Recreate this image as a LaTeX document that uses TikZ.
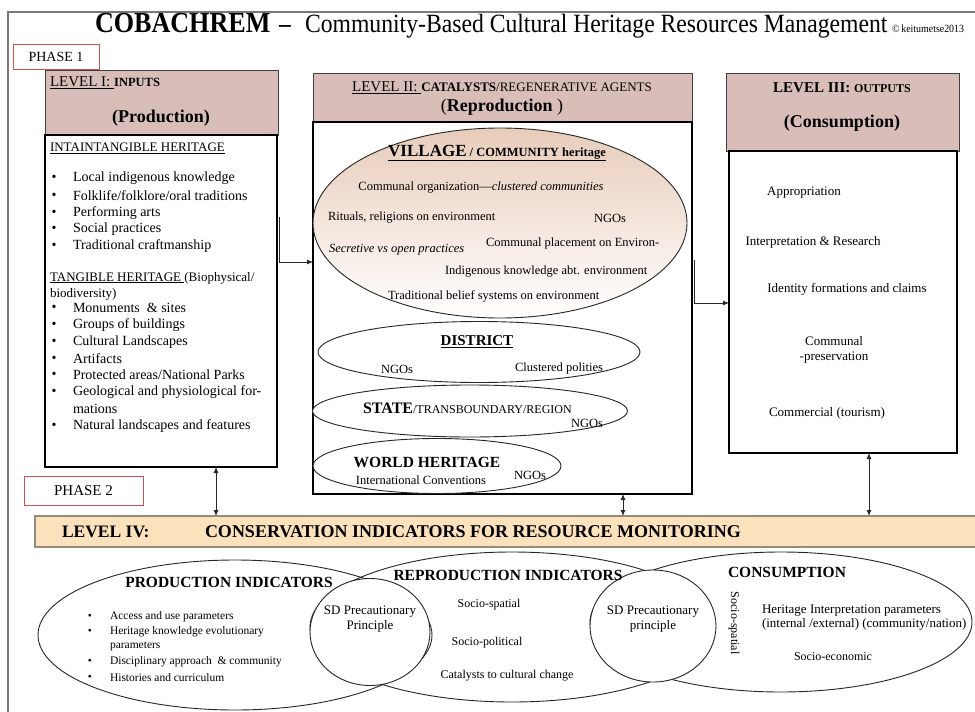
\documentclass[tikz,border=0pt]{standalone}
\usepackage{fontspec}
\setmainfont{Liberation Serif}
\newfontfamily\titlefont[FakeStretch=0.9]{Liberation Serif}
\usetikzlibrary{arrows.meta,shapes.geometric}

\definecolor{hdrpink}{RGB}{217,189,184}
\definecolor{barpeach}{RGB}{251,226,188}
\definecolor{barline}{RGB}{150,138,120}
\definecolor{phasered}{RGB}{205,80,80}
\definecolor{framegray}{RGB}{120,120,120}
\definecolor{vtop}{RGB}{232,204,186}
\definecolor{vmid}{RGB}{245,230,220}
\definecolor{inkgray}{RGB}{40,40,40}

\newcommand{\fz}[1]{\fontsize{#1}{#1}\selectfont}

\begin{document}
\begin{tikzpicture}[x=1pt,y=-1pt,
  every node/.style={inner sep=0pt, outer sep=0pt},
  hdr/.style={draw=black!75, fill=hdrpink, line width=0.9pt, anchor=north west},
  bodybox/.style={draw=black, fill=white, line width=1.7pt, anchor=north west},
  phasebox/.style={draw=phasered, fill=white, line width=0.9pt, anchor=north west},
  oval/.style={ellipse, draw=black!85, line width=0.9pt},
  arr/.style={-{Latex[length=6pt,width=5pt]}, draw=inkgray, line width=0.9pt},
  darr/.style={{Latex[length=6pt,width=5pt]}-{Latex[length=6pt,width=5pt]}, draw=inkgray, line width=0.9pt},
  lt/.style={anchor=west},
  f115/.style={font=\fz{11.5}},
  f12/.style={font=\fz{12}},
  f125/.style={font=\fz{12.5}},
  f13/.style={font=\fz{13}},
  f14/.style={font=\fz{14}},
  f15/.style={font=\fz{15}},
  hb/.style={font=\fz{15.5}\bfseries},
  bul/.style={font=\fz{14}}
]
\useasboundingbox (0,0) rectangle (975,712);
\fill[white] (0,0) rectangle (975,712);

% outer frame
\draw[framegray, line width=1.3pt] (8,712) -- (8,12) -- (980,12);

% title
\node[anchor=base west] (tA) at (95,32) {\titlefont\fz{29}\bfseries COBACHREM};
\node[anchor=base] (tB) at (285,32) {\titlefont\fz{26}\bfseries –};
\node[anchor=base west] (tC) at (305,32) {\titlefont\fz{26.3}Community-Based Cultural Heritage Resources Management};
\node[anchor=base west] (tD) at (892,32) {\titlefont\fz{11}©\,keitumetse2013};

% phase labels
\node[phasebox, minimum width=86pt, minimum height=25pt] (ph1) at (13,44) {};
\node[f14] (ph1t) at (ph1.center) {PHASE 1};
\node[phasebox, minimum width=119pt, minimum height=29pt] (ph2) at (24,476) {};
\node[f15] (ph2t) at (ph2.center) {PHASE 2};

% level boxes
\node[hdr, minimum width=233pt, minimum height=65pt] (L1h) at (45,70) {};
\node[bodybox, minimum width=232pt, minimum height=332pt] (L1b) at (45,135) {};
\node[hdr, minimum width=379pt, minimum height=49pt] (L2h) at (313,73) {};
\node[bodybox, minimum width=379pt, minimum height=372pt] (L2b) at (313,122) {};
\node[hdr, minimum width=233pt, minimum height=78pt] (L3h) at (726,73) {};
\node[bodybox, minimum width=228pt, minimum height=302pt] (L3b) at (729,151) {};

% level IV bar
\node[draw=barline, fill=barpeach, line width=1.1pt, anchor=north west,
      minimum width=950pt, minimum height=31pt] (bar) at (35,516) {};
\node[lt, font=\fz{17.5}\bfseries] (barA) at (62,532) {LEVEL IV:};
\node[lt, font=\fz{18}\bfseries] (barB) at (205,532) {CONSERVATION INDICATORS FOR RESOURCE MONITORING};

% ---- level I ----
\node[lt] (L1t) at (50,83) {\fz{15}\underline{LEVEL I:\ }{\fz{12.5}\bfseries INPUTS}};
\node[font=\fz{18}\bfseries] (L1p) at (161,118) {(Production)};
\node[lt, f13] (ih) at (50,148) {\underline{INTAINTANGIBLE HERITAGE}};
\foreach \y/\t [count=\i] in {178/Local indigenous knowledge,
  196/Folklife\slash folklore\slash oral traditions,
  213/Performing arts, 229/Social practices, 246/Traditional craftmanship}{
  \node[bul] (ib\i) at (54,\y) {\textbullet};
  \node[lt, bul] (it\i) at (73,\y) {\t};
}
\node[lt, f13] (th) at (50,278) {\underline{TANGIBLE HERITAGE }(Biophysical/};
\node[lt, f13] (th2) at (50,294) {biodiversity)};
\foreach \y/\t [count=\i] in {308/Monuments \ \& sites, 325/Groups of buildings,
  342/Cultural Landscapes, 359/Artifacts, 375/Protected areas\slash National Parks,
  392/Geological and physiological for-, 426/Natural landscapes and features}{
  \node[bul] (tb\i) at (54,\y) {\textbullet};
  \node[lt, bul] (tt\i) at (73,\y) {\t};
}
\node[lt, bul] (tt8) at (73,409) {mations};

% ---- level II ----
\node (L2t) at (502,88) {\fz{15}\underline{LEVEL II:\ }{\fz{13}\bfseries CATALYSTS}{\fz{13}/REGENERATIVE AGENTS}};
\node (L2p) at (502,107) {\fz{18}({\bfseries Reproduction} )};

\node[oval, top color=vtop, middle color=vmid, bottom color=white, minimum width=374pt, minimum height=190pt] (village) at (500,223) {};
\node[oval, fill=white, minimum width=322pt, minimum height=61pt] (district) at (479,352) {};
\node[oval, fill=white, minimum width=315pt, minimum height=52pt] (state) at (470,411) {};
\node[oval, fill=white, minimum width=248pt, minimum height=55pt] (world) at (437,466) {};

\node (vt) at (497,153) {\bfseries\underline{\fz{17}VILLAGE\fz{12.5} / COMMUNITY heritage}};
\node[f125] (v1) at (481,188) {Communal organization—\textit{clustered communities}};
\node[lt, f125] (v2) at (328,218) {Rituals, religions on environment};
\node[f125] (v3) at (610,218) {NGOs};
\node[lt, f125] (v4) at (486,243) {Communal placement on Environ-};
\node[lt, f125] (v5) at (329,250) {\textit{Secretive vs open practices}};
\node[lt, f125] (v6) at (445,272) {Indigenous knowledge abt. environment};
\node[lt, f125] (v7) at (388,296) {Traditional belief systems on environment};

\node[font=\fz{15}\bfseries] (dt) at (477,342) {\underline{DISTRICT}};
\node[f125] (d1) at (397,369) {NGOs};
\node[f125] (d2) at (559,368) {Clustered polities};

\node[lt] (st) at (363,408) {{\fz{16}\bfseries STATE}{\fz{12}/TRANSBOUNDARY/REGION}};
\node[f125] (s1) at (587,423) {NGOs};

\node[hb] (wt) at (427,462) {WORLD HERITAGE};
\node[f125] (w1) at (421,480) {International Conventions};
\node[f125] (w2) at (530,475) {NGOs};

% ---- level III ----
\node (L3t) at (842,88) {\bfseries\fz{15}LEVEL III: \fz{12}OUTPUTS};
\node[font=\fz{18}\bfseries] (L3p) at (842,123) {(Consumption)};
\node[f13] (o1) at (804,193) {Appropriation};
\node[f13] (o2) at (813,242) {Interpretation \& Research};
\node[f13] (o3) at (847,289) {Identity formations and claims};
\node[align=center, font=\fontsize{13}{15}\selectfont] (o4) at (834,350) {Communal\\-preservation};
\node[f13] (o5) at (827,413) {Commercial (tourism)};

% ---- connectors ----
\coordinate (k1) at (279,217);
\coordinate (j1) at (279,262);
\draw[arr] (k1) -- (j1) -- (L2b.west |- j1);
\coordinate (k2) at (694,260);
\coordinate (j2) at (694,303);
\draw[arr] (k2) -- (j2) -- (L3b.west |- j2);
\coordinate (x1) at (216,0);
\coordinate (x2) at (623,0);
\coordinate (x3) at (869,0);
\draw[darr] (L1b.south -| x1) -- (bar.north -| x1);
\draw[darr] (L2b.south -| x2) -- (bar.north -| x2);
\draw[darr] (L3b.south -| x3) -- (bar.north -| x3);

% ---- level IV indicator ovals ----
\node[oval, minimum width=394pt, minimum height=150pt] (prodE) at (235,635) {};
\node[oval, minimum width=404pt, minimum height=150pt] (reproE) at (512,627) {};
\node[oval, minimum width=382pt, minimum height=140pt] (consE) at (781,622) {};
\node[oval, fill=white, minimum width=120pt, minimum height=107pt] (sd1) at (370,632) {};
\node[oval, fill=white, minimum width=126pt, minimum height=112pt] (sd2) at (653,626) {};

\node[hb] (pi) at (229,582) {PRODUCTION INDICATORS};
\foreach \y/\t [count=\i] in {617/Access and use parameters,
  632/Heritage knowledge evolutionary,
  662/Disciplinary approach \ \& community, 678/Histories and curriculum}{
  \node[f115] (pb\i) at (90,\y) {\textbullet};
  \node[lt, f115] (pt\i) at (110,\y) {\t};
}
\node[lt, f115] (pt5) at (110,646) {parameters};

\node[align=center, font=\fontsize{13}{15}\selectfont] (sdt1) at (370,619) {SD Precautionary\\Principle};
\node[hb] (ri) at (508,575) {REPRODUCTION INDICATORS};
\node[f12] (r1) at (489,605) {Socio-spatial};
\node[f12] (r2) at (487,643) {Socio-political};
\node[f12] (r3) at (507,676) {Catalysts to cultural change};
\node[align=center, font=\fontsize{13}{15}\selectfont] (sdt2) at (653,619) {SD Precautionary\\principle};

\node[hb] (ci) at (787,572) {CONSUMPTION};
\node[f12, rotate=-90] (c0) at (734,623) {Socio-spatial};
\node[lt, align=left, font=\fontsize{13}{14}\selectfont] (c1) at (762,618) {Heritage Interpretation parameters\\(internal /external) (community/nation)};
\node[f12] (c2) at (833,657) {Socio-economic};
\end{tikzpicture}
\end{document}
